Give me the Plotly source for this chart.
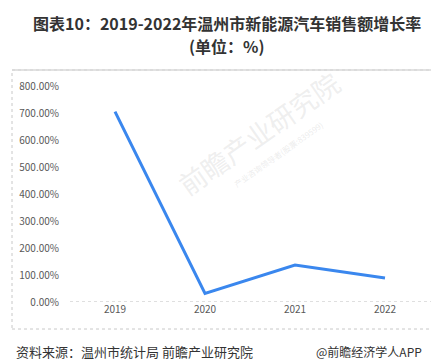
import plotly.graph_objects as go

years = ["2019", "2020", "2021", "2022"]
growth = [705.0, 32.0, 137.0, 89.0]
y_ticks = [0, 100, 200, 300, 400, 500, 600, 700, 800]
y_tick_labels = ["0.00%", "100.00%", "200.00%", "300.00%", "400.00%",
                 "500.00%", "600.00%", "700.00%", "800.00%"]

W, H = 439, 363
L, R, T, B = 62, 17, 78, 69
pw, ph = W - L - R, H - T - B

def px_x(x):
    return (x - L) / pw

def px_y(y):
    return (H - B - y) / ph

fig = go.Figure()
fig.add_trace(go.Scatter(
    x=years, y=growth, mode="lines",
    line=dict(color="#3a87ee", width=3),
    hoverinfo="skip", showlegend=False,
))

fig.update_layout(
    width=W, height=H,
    margin=dict(l=L, r=R, t=T, b=B),
    paper_bgcolor="white", plot_bgcolor="white",
    font=dict(family="Noto Sans CJK SC, sans-serif", color="#595959"),
    xaxis=dict(type="category", showgrid=False, showline=False, zeroline=False,
               ticks="", tickfont=dict(size=10, color="#595959"),
               range=[-0.5, 3.5]),
    yaxis=dict(range=[0, 800], tickvals=y_ticks, ticktext=y_tick_labels,
               showgrid=False, zeroline=False, showline=False, ticks="",
               tickfont=dict(size=10, color="#595959"), ticklabelstandoff=10),
    shapes=[
        dict(type="rect", xref="paper", yref="paper",
             x0=px_x(4), x1=px_x(434), y0=px_y(321), y1=px_y(62),
             line=dict(color="#c8c8c8", width=1, dash="dot"), layer="below"),
        dict(type="line", xref="paper", yref="paper",
             x0=px_x(4), x1=px_x(434), y0=px_y(62), y1=px_y(62),
             line=dict(color="#d9d9d9", width=1.5)),
        dict(type="line", xref="paper", yref="y",
             x0=0, x1=1.01, y0=0, y1=0,
             line=dict(color="#bfbfbf", width=1, dash="dot"), layer="below"),
    ],
    annotations=[
        dict(text="<b>图表10：2019-2022年温州市新能源汽车销售额增长率</b>",
             xref="paper", yref="paper", x=px_x(219), y=px_y(15),
             showarrow=False, xanchor="center", yanchor="middle",
             font=dict(size=16, color="#333333")),
        dict(text="<b>(单位：%)</b>",
             xref="paper", yref="paper", x=px_x(219), y=px_y(38),
             showarrow=False, xanchor="center", yanchor="middle",
             font=dict(size=16, color="#333333")),
        dict(text="资料来源：温州市统计局 前瞻产业研究院",
             xref="paper", yref="paper", x=px_x(6), y=px_y(343),
             showarrow=False, xanchor="left", yanchor="middle",
             font=dict(size=13, color="#333333")),
        dict(text="@前瞻经济学人APP",
             xref="paper", yref="paper", x=px_x(306), y=px_y(343),
             showarrow=False, xanchor="left", yanchor="middle",
             font=dict(size=12, color="#333333")),
        dict(text="前瞻产业研究院",
             xref="paper", yref="paper", x=px_x(250), y=px_y(125),
             showarrow=False, xanchor="center", yanchor="middle", textangle=-35,
             font=dict(size=27, color="rgba(200,200,200,0.3)")),
        dict(text="产业咨询领导者(股票:839599)",
             xref="paper", yref="paper", x=px_x(270), y=px_y(146),
             showarrow=False, xanchor="center", yanchor="middle", textangle=-35,
             font=dict(size=8, color="rgba(200,200,200,0.35)")),
    ],
)

fig.write_html("out.html")
